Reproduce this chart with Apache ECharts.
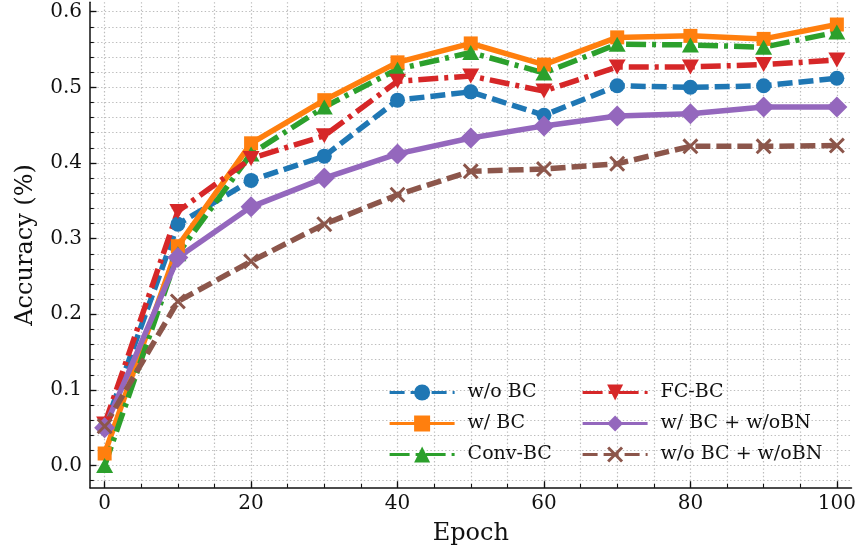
<!DOCTYPE html>
<html>
<head>
<meta charset="utf-8">
<script src="https://cdn.jsdelivr.net/npm/echarts@6/dist/echarts.min.js"></script>
<style>
html,body{margin:0;padding:0;background:#fff;}
#chart{width:859px;height:557px;}
</style>
</head>
<body>
<div id="chart"></div>
<script>
// ---- data ----
const epochs = [0, 10, 20, 30, 40, 50, 60, 70, 80, 90, 100];
const woBC      = [0.050, 0.319, 0.377, 0.409, 0.483, 0.494, 0.463, 0.502, 0.500, 0.502, 0.512];
const wBC       = [0.016, 0.290, 0.426, 0.483, 0.533, 0.558, 0.530, 0.566, 0.568, 0.564, 0.583];
const convBC    = [0.000, 0.280, 0.412, 0.474, 0.524, 0.546, 0.519, 0.557, 0.556, 0.553, 0.573];
const fcBC      = [0.055, 0.336, 0.406, 0.436, 0.508, 0.515, 0.495, 0.527, 0.527, 0.530, 0.536];
const wBCwoBN   = [0.050, 0.275, 0.342, 0.380, 0.412, 0.433, 0.449, 0.462, 0.465, 0.474, 0.474];
const woBCwoBN  = [0.052, 0.217, 0.270, 0.319, 0.358, 0.389, 0.392, 0.399, 0.422, 0.422, 0.423];
const seriesNames = ['w/o BC', 'w/ BC', 'Conv-BC', 'FC-BC', 'w/ BC + w/oBN', 'w/o BC + w/oBN'];
const xMajorTicks = [0, 20, 40, 60, 80, 100];
const xMinorTicks = [0, 5, 10, 15, 20, 25, 30, 35, 40, 45, 50, 55, 60, 65, 70, 75, 80, 85, 90, 95, 100];
const yMajorTicks = [0, 0.1, 0.2, 0.3, 0.4, 0.5, 0.6];
const yMinorTicks = [-0.02, 0, 0.02, 0.04, 0.06, 0.08, 0.1, 0.12, 0.14, 0.16, 0.18, 0.2, 0.22, 0.24, 0.26, 0.28, 0.3,
  0.32, 0.34, 0.36, 0.38, 0.4, 0.42, 0.44, 0.46, 0.48, 0.5, 0.52, 0.54, 0.56, 0.58, 0.6];

const FONT = 'DejaVu Serif';
const XMIN = -2, XMAX = 102, YMIN = -0.0292, YMAX = 0.6125;
const gridLine = {show: true, lineStyle: {color: '#bdbdbd', width: 1.2, type: [1.4, 2.3]}};

const chart = echarts.init(document.getElementById('chart'), null, {renderer: 'canvas'});

function pairs(vals) { return epochs.map((e, i) => [e, vals[i]]); }

const X_PATH = 'path://M0,2.1L2.1,0L8,5.9L13.9,0L16,2.1L10.1,8L16,13.9L13.9,16L8,10.1L2.1,16L0,13.9L5.9,8Z';
const LW = 5.5;
const styles = [
  {c: '#1f77b4', dash: [15, 6], sym: 'circle', size: 15, vals: woBC},
  {c: '#ff7f0e', dash: 'solid', sym: 'rect', size: 14, vals: wBC},
  {c: '#2ca02c', dash: [20, 6, 4, 6], sym: 'triangle', size: [17, 15], vals: convBC},
  {c: '#d62728', dash: [20, 6, 4, 6], sym: 'path://M0,0L20,0L10,18Z', size: [17, 15], vals: fcBC},
  {c: '#9467bd', dash: 'solid', sym: 'diamond', size: 21, vals: wBCwoBN},
  {c: '#8c564b', dash: [15, 6], sym: X_PATH, size: 16, vals: woBCwoBN}
];

const series = styles.map((s, i) => ({
  name: seriesNames[i],
  type: 'line',
  xAxisIndex: 0, yAxisIndex: 0,
  data: pairs(s.vals),
  symbol: s.sym,
  symbolSize: s.size,
  showAllSymbol: true,
  lineStyle: {color: s.c, width: LW, type: s.dash, cap: 'butt'},
  itemStyle: {color: s.c, borderWidth: 0},
  emphasis: {disabled: true}
}));

const legendCommon = {
  orient: 'vertical', itemWidth: 65, itemHeight: 20, itemGap: 12, padding: 0,
  lineStyle: {width: 3.2},
  textStyle: {fontFamily: FONT, fontSize: 19, color: '#111', padding: [0, 0, 0, 8]},
  selectedMode: false
};

const option = {
  animation: false,
  backgroundColor: '#fff',
  color: styles.map(s => s.c),
  grid: {left: 90, right: 7.5, top: 2.2, bottom: 69.3, containLabel: false},
  legend: [
    Object.assign({}, legendCommon, {data: seriesNames.slice(0, 3), left: 388, top: 383}),
    Object.assign({}, legendCommon, {data: seriesNames.slice(3, 6), left: 581, top: 383})
  ],
  xAxis: [
    {
      type: 'value', min: XMIN, max: XMAX, position: 'bottom',
      name: 'Epoch', nameLocation: 'middle', nameGap: 34,
      nameTextStyle: {fontFamily: FONT, fontSize: 24, color: '#111'},
      axisLine: {show: true, onZero: false, lineStyle: {color: '#111', width: 1.5}},
      axisTick: {show: true, inside: true, length: 6.5, customValues: xMajorTicks, lineStyle: {color: '#111', width: 1.3}},
      axisLabel: {show: true, customValues: xMajorTicks, margin: 6, fontFamily: FONT, fontSize: 20, color: '#111',
        formatter: v => String(Math.round(v))},
      splitLine: {show: false}
    },
    {
      type: 'value', min: XMIN, max: XMAX, position: 'bottom',
      axisLine: {show: false, onZero: false},
      axisTick: {show: true, inside: true, length: 3.8, customValues: xMinorTicks, lineStyle: {color: '#111', width: 1.1}},
      axisLabel: {show: false},
      splitLine: gridLine
    }
  ],
  yAxis: [
    {
      type: 'value', min: YMIN, max: YMAX, position: 'left',
      name: 'Accuracy (%)', nameLocation: 'middle', nameGap: 52,
      nameTextStyle: {fontFamily: FONT, fontSize: 24, color: '#111'},
      axisLine: {show: true, onZero: false, lineStyle: {color: '#111', width: 1.5}},
      axisTick: {show: true, inside: true, length: 6.5, customValues: yMajorTicks, lineStyle: {color: '#111', width: 1.3}},
      axisLabel: {show: true, customValues: yMajorTicks, margin: 8, fontFamily: FONT, fontSize: 20, color: '#111',
        formatter: v => v.toFixed(1)},
      splitLine: {show: false}
    },
    {
      type: 'value', min: YMIN, max: YMAX, position: 'left',
      axisLine: {show: false, onZero: false},
      axisTick: {show: true, inside: true, length: 3.8, customValues: yMinorTicks, lineStyle: {color: '#111', width: 1.1}},
      axisLabel: {show: false},
      splitLine: gridLine
    }
  ],
  series: series
};
chart.setOption(option);
</script>
</body>
</html>
